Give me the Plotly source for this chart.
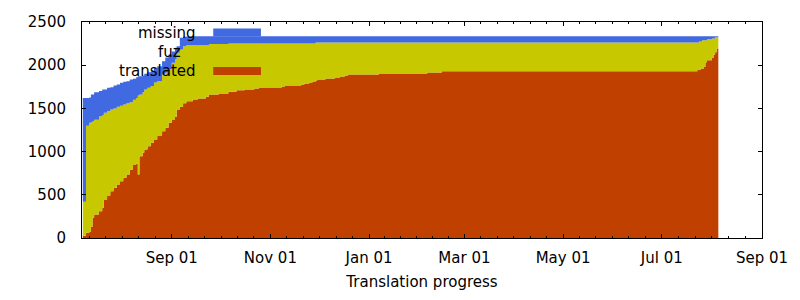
import pandas as pd
import plotly.graph_objects as go

dates = [
    "2010-07-08", "2010-07-10", "2010-07-12", "2010-07-13", "2010-07-14", "2010-07-15",
    "2010-07-18", "2010-07-20", "2010-07-21", "2010-07-23", "2010-07-25", "2010-07-27",
    "2010-07-29", "2010-07-31", "2010-08-02", "2010-08-04", "2010-08-06", "2010-08-08",
    "2010-08-10", "2010-08-11", "2010-08-12", "2010-08-14", "2010-08-15", "2010-08-17",
    "2010-08-19", "2010-08-21", "2010-08-23", "2010-08-26", "2010-08-28", "2010-08-30",
    "2010-09-01", "2010-09-03", "2010-09-04", "2010-09-06", "2010-09-08", "2010-09-10",
    "2010-09-14", "2010-09-17", "2010-09-22", "2010-09-24", "2010-09-30", "2010-10-06",
    "2010-10-11", "2010-10-16", "2010-10-22", "2010-10-25", "2010-11-08", "2010-11-10",
    "2010-11-20", "2010-11-22", "2010-11-25", "2010-11-27", "2010-11-29", "2010-11-30",
    "2010-12-05", "2010-12-11", "2010-12-14", "2010-12-17", "2010-12-19", "2011-01-07",
    "2011-02-06", "2011-02-15", "2011-07-23", "2011-07-24", "2011-07-25", "2011-07-26",
    "2011-07-27", "2011-07-28", "2011-07-29", "2011-08-01", "2011-08-02", "2011-08-03",
    "2011-08-04", "2011-08-05",
]

translated = [
    25, 60, 70, 130, 235, 272,
    310, 350, 446, 492, 542, 581,
    619, 657, 697, 735, 793, 851,
    860, 735, 947, 986, 1024, 1062,
    1102, 1140, 1186, 1236, 1275, 1333,
    1371, 1400, 1487, 1520, 1560, 1583,
    1603, 1615, 1634, 1660, 1672, 1692,
    1711, 1719, 1730, 1742, 1753, 1765,
    1777, 1788, 1800, 1811, 1823, 1835,
    1846, 1858, 1869, 1881, 1892, 1904,
    1915, 1931, 1943, 1943, 1962, 1962,
    1981, 2035, 2058, 2085, 2124, 2150,
    2193, 2193,
]

fuzzy = [
    395, 1240, 1265, 1210, 1115, 1098,
    1100, 1070, 1003, 978, 945, 919,
    899, 873, 848, 825, 779, 749,
    760, 915, 713, 704, 695, 678,
    658, 660, 629, 656, 637, 617,
    657, 666, 656, 662, 660, 649,
    629, 617, 598, 584, 572, 558,
    539, 531, 520, 508, 497, 485,
    473, 462, 450, 439, 439, 427,
    416, 404, 393, 381, 370, 358,
    347, 331, 319, 331, 312, 328,
    309, 255, 242, 224, 185, 174,
    131, 131,
]

missing = [
    1200, 320, 290, 320, 310, 318,
    290, 299, 270, 268, 258, 265,
    259, 266, 263, 255, 263, 242,
    240, 223, 213, 191, 181, 179,
    170, 169, 173, 154, 178, 174,
    132, 135, 77, 135, 109, 101,
    104, 104, 104, 92, 92, 86,
    86, 86, 86, 86, 86, 86,
    86, 86, 86, 86, 74, 74,
    74, 74, 74, 74, 74, 74,
    74, 74, 74, 62, 62, 46,
    46, 46, 36, 27, 27, 12,
    12, 12,
]

major_ticks = ["2010-09-01", "2010-11-01", "2011-01-01", "2011-03-01",
               "2011-05-01", "2011-07-01", "2011-09-01"]
y_ticks = [0, 500, 1000, 1500, 2000, 2500]

C_RED = "#C04000"
C_YEL = "#C8C800"
C_BLUE = "#4169E1"

# minor ticks: 6 sub-intervals between majors
maj = pd.to_datetime(major_ticks)
minor = []
for a, b in zip(maj[:-1], maj[1:]):
    step = (b - a) / 6
    for k in range(1, 6):
        minor.append(a + step * k)
step0 = (maj[1] - maj[0]) / 6
t = maj[0] - step0
while t > pd.Timestamp("2010-07-08"):
    minor.append(t)
    t -= step0
minor = [m.strftime("%Y-%m-%d %H:%M:%S") for m in minor]

fig = go.Figure()
for name, vals, col in [("translated", translated, C_RED),
                        ("fuz", fuzzy, C_YEL),
                        ("missing", missing, C_BLUE)]:
    fig.add_trace(go.Scatter(
        x=dates, y=vals, name=name, stackgroup="one", mode="lines",
        line=dict(width=0, shape="hv", color=col), fillcolor=col,
        showlegend=False, hoverinfo="skip"))

FONT = "DejaVu Sans"
FS = 15
fig.update_layout(
    width=800, height=300,
    margin=dict(l=82, r=34, t=22, b=61),
    paper_bgcolor="white", plot_bgcolor="white",
    font=dict(family=FONT, size=FS, color="black"),
    xaxis=dict(
        type="date", range=["2010-07-07 12:00", "2011-09-01"],
        tickmode="array", tickvals=major_ticks, tickformat="%b %d",
        ticks="inside", ticklen=4, tickcolor="black", tickwidth=1,
        minor=dict(tickmode="array", tickvals=minor, ticks="inside",
                   ticklen=2, tickcolor="black", showgrid=False),
        showline=True, linecolor="black", linewidth=1, mirror="allticks",
        showgrid=False, zeroline=False,
        ticklabelstandoff=6,
        title=dict(text="Translation progress", standoff=10,
                   font=dict(family=FONT, size=FS)),
    ),
    yaxis=dict(
        range=[0, 2500], tickvals=y_ticks,
        ticks="inside", ticklen=4, tickcolor="black", tickwidth=1,
        showline=True, linecolor="black", linewidth=1, mirror="allticks",
        showgrid=False, zeroline=False, ticklabelstandoff=12,
    ),
)

# gnuplot-style key inside top-left
def px2paper_x(px):
    return (px - 82) / 684.0

def px2paper_y(py):
    return (238.5 - py) / 216.0

key = [("missing", C_BLUE, 33, 199), ("fuz", C_YEL, 52, 184), ("translated", C_RED, 71.5, 199)]
for label, col, yc, xr in key:
    fig.add_annotation(x=px2paper_x(xr), y=px2paper_y(yc), xref="paper", yref="paper",
                       text=label, showarrow=False, xanchor="right", yanchor="middle",
                       font=dict(family=FONT, size=FS, color="black"))
    fig.add_shape(type="rect", xref="paper", yref="paper",
                  x0=px2paper_x(214), x1=px2paper_x(262),
                  y0=px2paper_y(yc + 4), y1=px2paper_y(yc - 4),
                  fillcolor=col, line=dict(width=0), layer="above")

fig.write_html("out.html")
